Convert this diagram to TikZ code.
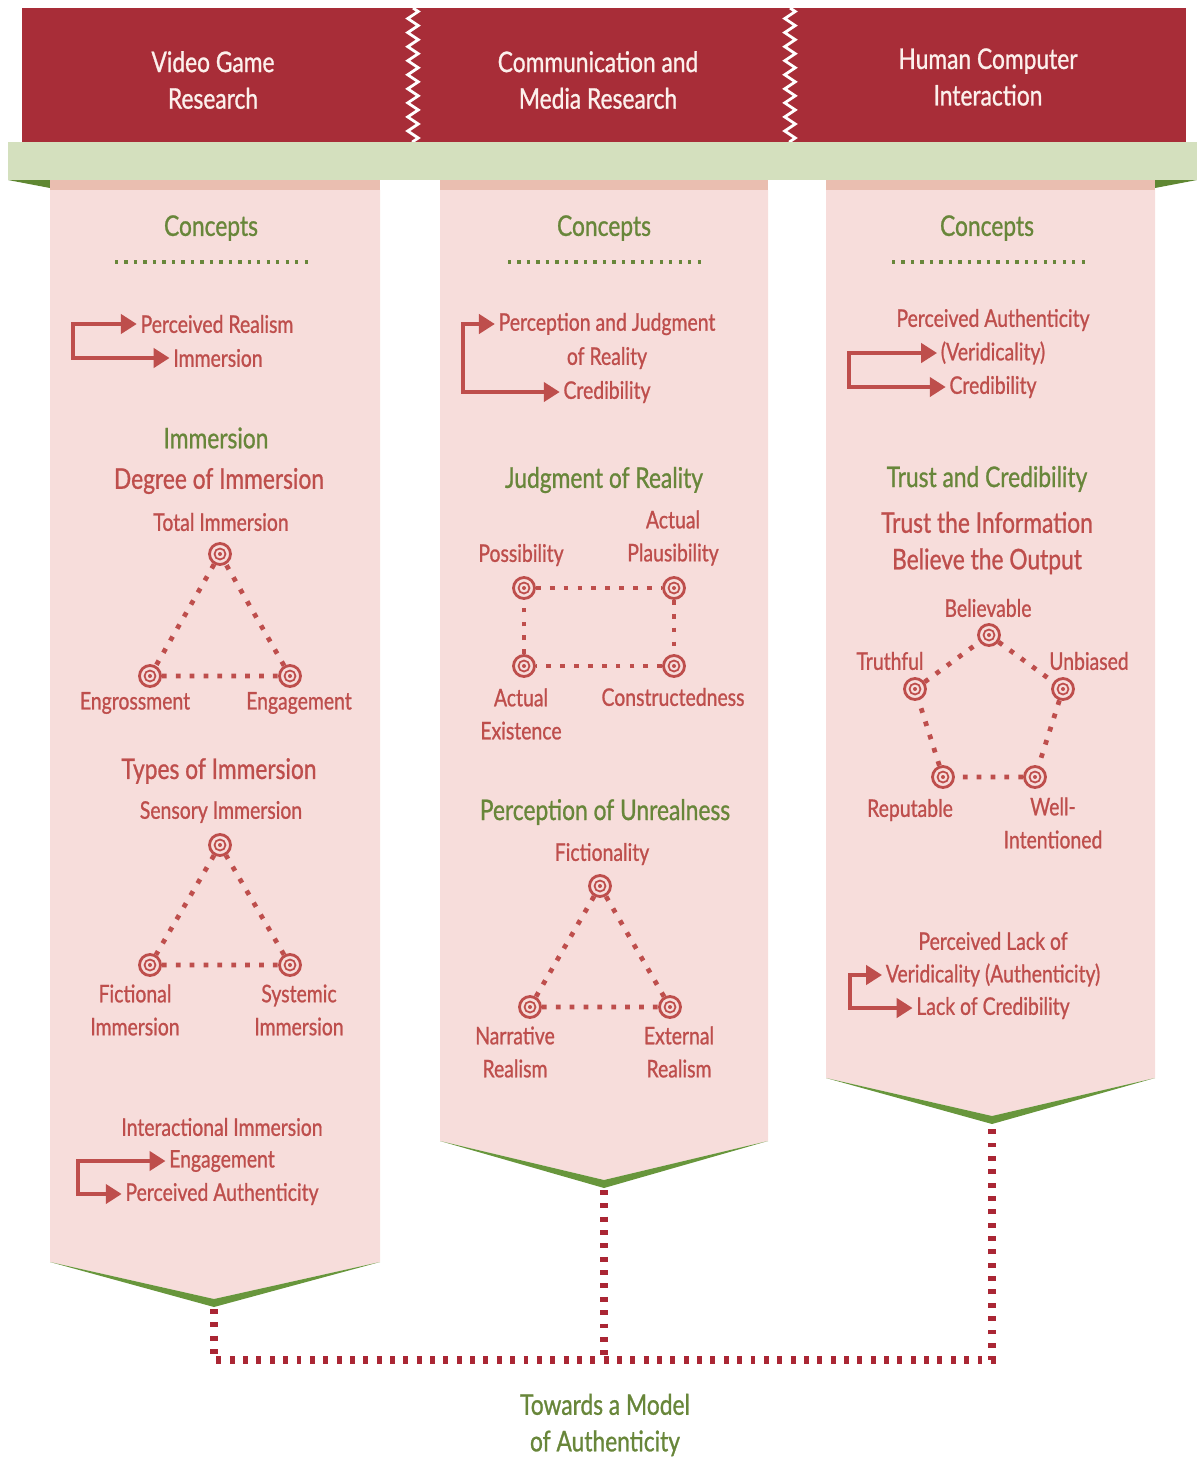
\documentclass[tikz,border=0pt]{standalone}
\usepackage{fontspec}
\setmainfont[FakeStretch=0.8,FakeBold=0.9]{Lato}
\usetikzlibrary{arrows.meta,decorations.pathmorphing}
\definecolor{BannerRed}{RGB}{168,45,56}
\definecolor{BandGreen}{RGB}{212,224,190}
\definecolor{FoldGreen}{RGB}{95,135,50}
\definecolor{ColPink}{RGB}{247,221,219}
\definecolor{StripPink}{RGB}{234,190,176}
\definecolor{TxtRed}{RGB}{190,78,76}
\definecolor{TxtGreen}{RGB}{104,134,58}
\definecolor{EdgeGreen}{RGB}{104,150,60}
\definecolor{JoinRed}{RGB}{170,38,52}
\definecolor{HeadTxt}{RGB}{252,240,236}
\newcommand\lblsize{\fontsize{13.8}{18.8}\selectfont}
\newcommand\headsize{\fontsize{16.2}{20.8}\selectfont}
\tikzset{
  lbl/.style={text=TxtRed,font=\lblsize,align=center,inner sep=2pt},
  hdr/.style={text=TxtRed,font=\headsize,align=center,inner sep=2pt},
  grn/.style={text=TxtGreen,font=\headsize,align=center,inner sep=2pt},
  banner/.style={text=HeadTxt,font=\headsize,align=center},
  tgt/.style={circle,draw=TxtRed,line width=1.6pt,fill=ColPink,minimum size=0.42cm,inner sep=0pt,
    path picture={\draw[TxtRed,line width=1pt] (path picture bounding box.center) circle (0.11cm);
      \fill[TxtRed] (path picture bounding box.center) circle (0.04cm);}},
  dotlink/.style={draw=TxtRed,line width=2.7pt,dash pattern=on 2.7pt off 5.2pt},
  cdots/.style={draw=TxtGreen,line width=1.8pt,dash pattern=on 1.8pt off 3.6pt},
  brk/.style={draw=TxtRed,line width=1.8pt,>={Triangle[length=9pt,width=11pt]},<->},
  joinline/.style={draw=JoinRed,line width=4.5pt,dash pattern=on 2.8pt off 4.8pt},
}
\begin{document}
\begin{tikzpicture}[x=0.02cm,y=-0.02cm]
  \useasboundingbox (0,0) rectangle (1197,1461);
  % banner and band
  \fill[BannerRed] (22,8) rectangle (1186,142);
  \foreach \zx in {413,790}
    \draw[white,line width=1.6pt,decorate,decoration={zigzag,segment length=8pt,amplitude=3pt}] (\zx,8) -- (\zx,142);
  \node[banner] (hv) at (213,80) {Video Game\\Research};
  \node[banner] (hc) at (598,80) {Communication and\\Media Research};
  \node[banner] (hh) at (988,77) {Human Computer\\Interaction};
  \fill[BandGreen] (8,142) rectangle (1197,180);
  \fill[FoldGreen] (8,180) -- (50,180) -- (50,188) -- cycle;
  \fill[FoldGreen] (1197,180) -- (1155,180) -- (1155,188) -- cycle;
  % columns
  \foreach \xa/\xb/\xm/\ye/\yt/\nm in {50/380/214/1262/1299/l,440/768/604/1141/1180/c,826/1155/992/1078/1116/r}{
    \fill[StripPink] (\xa,180) rectangle (\xb,190);
    \fill[ColPink] (\xa,190) -- (\xb,190) -- (\xb,\ye) -- (\xm,\yt) -- (\xa,\ye) -- cycle;
    \fill[EdgeGreen] (\xa,\ye) -- (\xm,\yt) -- (\xb,\ye) -- (\xm,\yt+8) -- cycle;
    \coordinate (tip\nm) at (\xm,\yt+10);
  }
  % joining line
  \coordinate (jl) at (214,1360);
  \coordinate (jc) at (604,1360);
  \coordinate (jr) at (992,1360);
  \draw[joinline] (tipl) -- (jl) -- (jr) -- (tipr);
  \draw[joinline] (tipc) -- (jc);
  \node[grn] (tow) at (605,1425) {Towards a Model\\of Authenticity};

  % video game column
  \node[grn] (cl) at (211,228) {Concepts};
  \coordinate (cla) at (115,262); \coordinate (clb) at (312,262);
  \draw[cdots] (cla) -- (clb);
  \node[lbl] (prl) at (217,324) {Perceived Realism};
  \node[lbl] (iml) at (218,358) {Immersion};
  \coordinate (kl1) at (73,340);
  \draw[brk] (prl.west) -| (kl1) |- (iml.west);
  \node[grn] (imh) at (216,438) {Immersion};
  \node[hdr] (deg) at (219,481) {Degree of Immersion};
  \node[lbl] (toti) at (221,522) {Total Immersion};
  \node[tgt] (t1) at (220,554) {};
  \node[tgt] (t2) at (150,676) {};
  \node[tgt] (t3) at (290,676) {};
  \draw[dotlink] (t1) -- (t2) -- (t3) -- (t1);
  \node[lbl] (engr) at (135,703) {Engrossment};
  \node[lbl] (enga) at (299,703) {Engagement};
  \node[hdr] (typ) at (219,771) {Types of Immersion};
  \node[lbl] (sens) at (221,812) {Sensory Immersion};
  \node[tgt] (s1) at (220,845) {};
  \node[tgt] (s2) at (150,965) {};
  \node[tgt] (s3) at (290,965) {};
  \draw[dotlink] (s1) -- (s2) -- (s3) -- (s1);
  \node[lbl] (fict) at (135,1010) {Fictional\\Immersion};
  \node[lbl] (syst) at (299,1010) {Systemic\\Immersion};
  \node[lbl] (inte) at (222,1127) {Interactional Immersion};
  \node[lbl] (enl) at (222,1161) {Engagement};
  \node[lbl] (pal) at (222,1194) {Perceived Authenticity};
  \coordinate (kl2) at (78,1180);
  \draw[brk] (enl.west) -| (kl2) |- (pal.west);

  % communication column
  \node[grn] (cc) at (604,228) {Concepts};
  \coordinate (cca) at (508,262); \coordinate (ccb) at (706,262);
  \draw[cdots] (cca) -- (ccb);
  \node[lbl] (pj) at (607,324) {Perception and Judgment};
  \node[lbl] (ofr) at (607,358) {of Reality};
  \node[lbl] (crc) at (607,392) {Credibility};
  \coordinate (kc1) at (463,360);
  \draw[brk] (pj.west) -| (kc1) |- (crc.west);
  \node[grn] (jor) at (604,480) {Judgment of Reality};
  \node[lbl] (apl) at (673,538) {Actual\\Plausibility};
  \node[lbl] (pos) at (521,555) {Possibility};
  \node[tgt] (r1) at (524,588) {};
  \node[tgt] (r2) at (674,588) {};
  \node[tgt] (r3) at (674,666) {};
  \node[tgt] (r4) at (524,666) {};
  \draw[dotlink] (r1) -- (r2) -- (r3) -- (r4) -- (r1);
  \node[lbl] (aex) at (521,714) {Actual\\Existence};
  \node[lbl] (con) at (673,697) {Constructedness};
  \node[grn] (pun) at (605,812) {Perception of Unrealness};
  \node[lbl] (fic) at (602,854) {Fictionality};
  \node[tgt] (f1) at (600,886) {};
  \node[tgt] (f2) at (530,1007) {};
  \node[tgt] (f3) at (670,1007) {};
  \draw[dotlink] (f1) -- (f2) -- (f3) -- (f1);
  \node[lbl] (nar) at (515,1052) {Narrative\\Realism};
  \node[lbl] (ext) at (679,1052) {External\\Realism};

  % hci column
  \node[grn] (cr) at (987,228) {Concepts};
  \coordinate (cra) at (892,262); \coordinate (crb) at (1089,262);
  \draw[cdots] (cra) -- (crb);
  \node[lbl] (pau) at (993,320) {Perceived Authenticity};
  \node[lbl] (ver) at (993,353) {(Veridicality)};
  \node[lbl] (crr) at (993,387) {Credibility};
  \coordinate (kr1) at (849,370);
  \draw[brk] (ver.west) -| (kr1) |- (crr.west);
  \node[grn] (tac) at (987,479) {Trust and Credibility};
  \node[hdr] (tti) at (987,543) {Trust the Information\\Believe the Output};
  \node[lbl] (bel) at (988,608) {Believable};
  \node[tgt] (p1) at (989,635) {};
  \node[tgt] (p2) at (1063,689) {};
  \node[tgt] (p3) at (1035,777) {};
  \node[tgt] (p4) at (943,777) {};
  \node[tgt] (p5) at (915,689) {};
  \draw[dotlink] (p1) -- (p2) -- (p3) -- (p4) -- (p5) -- (p1);
  \node[lbl] (tru) at (890,661) {Truthful};
  \node[lbl] (unb) at (1089,661) {Unbiased};
  \node[lbl] (rep) at (910,810) {Reputable};
  \node[lbl] (wel) at (1053,823) {Well-\\Intentioned};
  \node[lbl] (plk) at (993,941) {Perceived Lack of};
  \node[lbl] (vau) at (993,975) {Veridicality (Authenticity)};
  \node[lbl] (lcr) at (993,1008) {Lack of Credibility};
  \coordinate (kr2) at (850,990);
  \draw[brk] (vau.west) -| (kr2) |- (lcr.west);
\end{tikzpicture}
\end{document}
